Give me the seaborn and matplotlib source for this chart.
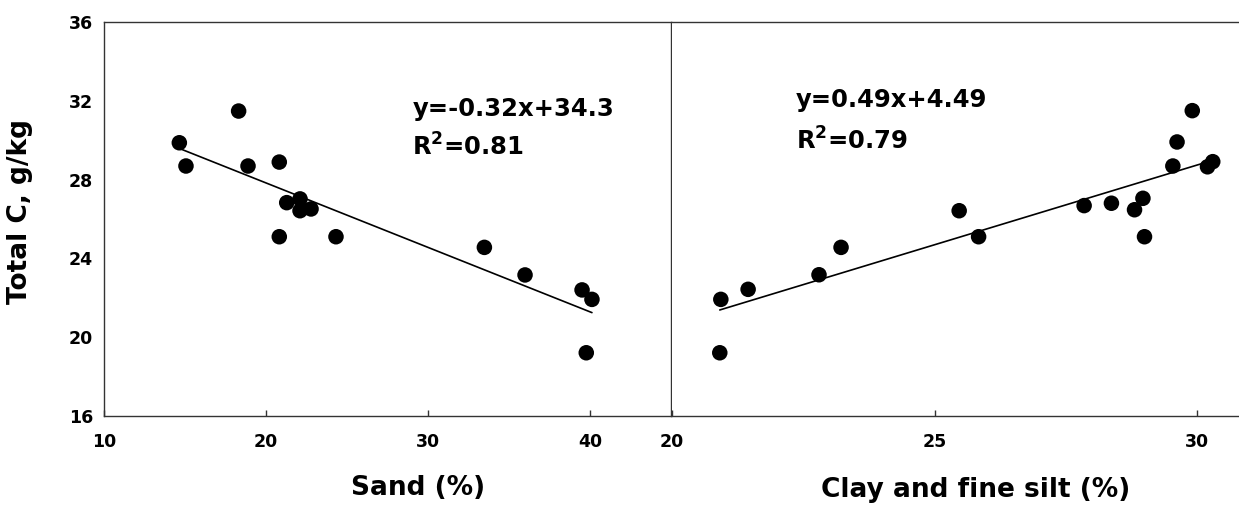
import matplotlib
matplotlib.use("Agg")
import matplotlib.pyplot as plt
import seaborn as sns

# --- data ---
sand = [14.65, 15.06, 18.31, 18.89, 20.82, 21.28, 22.10, 22.10,
        22.78, 20.82, 24.32, 33.48, 35.99, 39.51, 40.12, 39.77]
tc_sand = [29.87, 28.69, 31.48, 28.69, 28.89, 26.83, 27.02, 26.42,
           26.51, 25.10, 25.10, 24.56, 23.16, 22.40, 21.92, 19.21]

clay = [20.93, 20.91, 21.45, 22.80, 23.22, 25.47, 25.84, 27.85, 28.37,
        28.81, 28.97, 29.00, 29.54, 29.62, 29.91, 30.20, 30.30]
tc_clay = [21.92, 19.21, 22.43, 23.17, 24.56, 26.42, 25.10, 26.68, 26.80,
           26.47, 27.05, 25.10, 28.69, 29.91, 31.50, 28.65, 28.91]

y_ticks = [16, 20, 24, 28, 32, 36]
sand_ticks = [10, 20, 30, 40]
clay_ticks = [20, 25, 30]

eq_sand = ["y=-0.32x+34.3", r"R$^{\mathbf{2}}$=0.81"]
eq_clay = ["y=0.49x+4.49", r"R$^{\mathbf{2}}$=0.79"]

sns.set_style("ticks")
plt.rcParams["font.family"] = ["DejaVu Sans"]
plt.rcParams["font.weight"] = "bold"
plt.rcParams["mathtext.default"] = "bf"
for key in ("text.color", "axes.labelcolor", "xtick.labelcolor", "ytick.labelcolor"):
    plt.rcParams[key] = "black"

fig = plt.figure(figsize=(12.39, 5.07), dpi=100)
ax1 = fig.add_axes([104 / 1239, 91 / 507, 567 / 1239, 394 / 507])
ax2 = fig.add_axes([672 / 1239, 91 / 507, 567 / 1239, 394 / 507])

scatter_kws = dict(s=125, color="black", edgecolors="none", alpha=1)
line_kws = dict(color="black", lw=1.2)

sns.regplot(x=sand, y=tc_sand, ax=ax1, ci=None, scatter_kws=scatter_kws, line_kws=line_kws)
sns.regplot(x=clay, y=tc_clay, ax=ax2, ci=None, scatter_kws=scatter_kws, line_kws=line_kws)

spine_col = "#333333"
for ax in (ax1, ax2):
    ax.set_ylim(16, 36)
    for s in ax.spines.values():
        s.set_color(spine_col)
        s.set_linewidth(1.0)
    ax.tick_params(axis="x", direction="in", length=4, width=1, color=spine_col,
                   labelsize=12.5, pad=12, labelcolor="black")

ax1.set_xlim(10, 45)
ax1.set_xticks(sand_ticks)
ax1.set_yticks(y_ticks)
ax1.tick_params(axis="y", length=0, labelsize=12.5, pad=8, labelcolor="black")
for lab in ax1.get_xticklabels() + ax1.get_yticklabels():
    lab.set_fontweight("bold")

ax2.set_xlim(20, 30.8)
ax2.set_xticks(clay_ticks)
ax2.set_yticks([])
ax2.spines["left"].set_visible(False)
ax2.spines["right"].set_visible(False)
for lab in ax2.get_xticklabels():
    lab.set_fontweight("bold")

ax1.set_xlabel("Sand (%)", fontsize=19, fontweight="bold", color="black")
ax1.xaxis.set_label_coords(0.554, -0.150)
ax1.set_ylabel("Total C, g/kg", fontsize=19, fontweight="bold", color="black")
ax1.yaxis.set_label_coords(-0.125, 0.52)
ax2.set_xlabel("Clay and fine silt (%)", fontsize=19, fontweight="bold", color="black")
ax2.xaxis.set_label_coords(0.536, -0.155)

for ax, lines, x0, ys in ((ax1, eq_sand, 0.544, (0.761, 0.660)),
                          (ax2, eq_clay, 0.219, (0.783, 0.675))):
    for txt, yy in zip(lines, ys):
        ax.text(x0, yy, txt, transform=ax.transAxes, fontsize=17.5,
                fontweight="bold", va="baseline", color="black")

fig.savefig("out.png", dpi=100)
